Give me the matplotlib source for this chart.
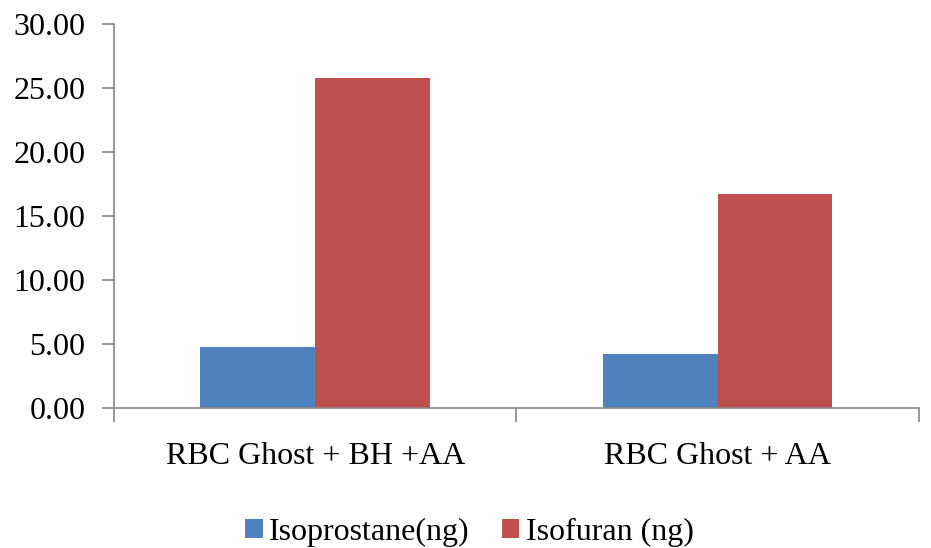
import matplotlib
import matplotlib.pyplot as plt
import numpy as np
from matplotlib.ticker import FormatStrFormatter

matplotlib.use("Agg")

groups = ["RBC Ghost + BH +AA", "RBC Ghost + AA"]
isoprostane = [4.76, 4.21]
isofuran = [25.74, 16.74]
series_names = ["Isoprostane(ng)", "Isofuran (ng)"]

blue = "#4F81BD"
red = "#C0504D"
axis_gray = "#868686"

plt.rcParams["font.family"] = ["Liberation Serif", "DejaVu Serif"]
plt.rcParams["font.size"] = 23

fig = plt.figure(figsize=(9.31, 5.48), dpi=100)
ax = fig.add_axes([0.1224, 0.2549, 0.8647, 0.7019])

x = np.arange(len(groups))
width = 0.285
ax.bar(x - width / 2, isoprostane, width, color=blue, label=series_names[0])
ax.bar(x + width / 2, isofuran, width, color=red, label=series_names[1])

ax.set_xlim(-0.5, len(groups) - 0.5)
ax.set_ylim(0, 30)
ax.set_yticks(np.arange(0, 31, 5))
ax.yaxis.set_major_formatter(FormatStrFormatter("%.2f"))

# category labels centred, tick marks on the group boundaries
ax.set_xticks(x)
ax.set_xticklabels(groups)
ax.set_xticks(np.arange(-0.5, len(groups)), minor=True)
ax.tick_params(axis="x", which="major", length=0, pad=24)
ax.tick_params(axis="x", which="minor", length=10, width=1.2, color=axis_gray)
ax.tick_params(axis="y", length=9, width=1.2, color=axis_gray, pad=11.5)

for side in ["top", "right"]:
    ax.spines[side].set_visible(False)
for side in ["left", "bottom"]:
    ax.spines[side].set_color(axis_gray)
    ax.spines[side].set_linewidth(1.2)

fig.legend(
    loc="center",
    bbox_to_anchor=(0.504, 0.029),
    ncol=2,
    frameon=False,
    handlelength=0.55,
    handleheight=0.55,
    handletextpad=0.2,
    columnspacing=1.0,
)

fig.savefig("out.png", dpi=100)
